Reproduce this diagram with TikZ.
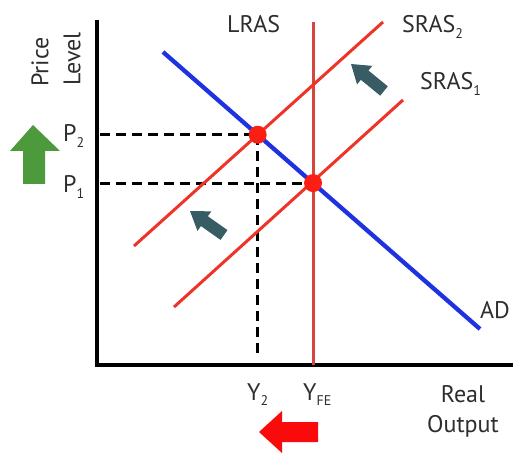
\documentclass[tikz,border=0pt]{standalone}
\usepackage{fontspec}
\setmainfont{PT Sans}
\definecolor{txt}{RGB}{45,45,45}
\definecolor{sras}{RGB}{238,52,40}
\definecolor{lras}{RGB}{215,70,60}
\definecolor{adblue}{RGB}{30,50,225}
\definecolor{dotred}{RGB}{250,30,20}
\definecolor{upgreen}{RGB}{76,154,60}
\definecolor{slate}{RGB}{55,92,100}
\definecolor{leftred}{RGB}{250,10,10}
\newcommand\sbs[1]{\raisebox{-0.45ex}{\fontsize{14}{14}\selectfont #1}}
\begin{document}
\begin{tikzpicture}[x=1pt,y=-1pt,
  lbl/.style={inner sep=0pt,text=txt,font=\fontsize{24}{26}\selectfont},
  axis/.style={line width=4pt,black,line cap=rect},
  srasline/.style={line width=3pt,sras},
  lrasline/.style={line width=3pt,lras},
  adline/.style={line width=4.3pt,adblue},
  guide/.style={line width=3pt,black,dash pattern=on 10pt off 6pt},
  dot/.style={circle,fill=dotred,inner sep=0pt,minimum size=18pt},
  slatearrow/.style={fill=slate}]
\useasboundingbox (0,0) rectangle (513,454);
% axes
\coordinate (ytop) at (97,22);
\coordinate (orig) at (97,365);
\coordinate (xend) at (512,365);
\draw[axis] (ytop) -- (orig) -- (xend);
% curves
\coordinate (ad1) at (163,52);
\coordinate (ad2) at (480,329);
\coordinate (s2a) at (134,246);
\coordinate (s2b) at (383,22);
\coordinate (s1a) at (174,307);
\coordinate (s1b) at (403,100);
\coordinate (l1) at (313,22);
\coordinate (l2) at (313,365);
\coordinate (E2) at (intersection of ad1--ad2 and s2a--s2b);
\coordinate (E1) at (intersection of ad1--ad2 and l1--l2);
\coordinate (py2) at (orig |- E2);
\coordinate (py1) at (orig |- E1);
\coordinate (px2) at (E2 |- 0,353);
% dashed guides
\draw[guide] ([xshift=3pt]py2) -- (E2);
\draw[guide] ([xshift=3pt]py1) -- (E1);
\draw[guide] (E2) -- (px2);
\draw[lrasline] (l1) -- (l2);
\draw[srasline] (s2a) -- (s2b);
\draw[srasline] (s1a) -- (s1b);
\draw[adline] (ad1) -- (ad2);
\node[dot] (d2) at (E2) {};
\node[dot] (d1) at (E1) {};
% labels
\node[lbl,anchor=base west] (tl) at (227,33) {LRAS};
\node[lbl,anchor=base west] (ts2) at (402,33) {SRAS\sbs{2}};
\node[lbl,anchor=base west] (ts1) at (420,90) {SRAS\sbs{1}};
\node[lbl,anchor=base west] (tad) at (480,318) {AD};
\node[lbl,anchor=base west] (tp2) at (63,142) {P\sbs{2}};
\node[lbl,anchor=base west] (tp1) at (63,193) {P\sbs{1}};
\node[lbl,anchor=base west] (ty2) at (247,400) {Y\sbs{2}};
\node[lbl,anchor=base west] (tyfe) at (303,400) {Y\sbs{FE}};
\node[lbl,anchor=base] (treal) at (463,402) {Real};
\node[lbl,anchor=base] (tout) at (463,432) {Output};
\node[lbl,rotate=90] (tprice) at (40,62) {Price};
\node[lbl,rotate=90] (tlevel) at (72,59) {Level};
% green up arrow
\fill[upgreen] (33,125) -- (60,151) -- (45,151) -- (45,184) -- (23,184) -- (23,151) -- (10,151) -- cycle;
% red left arrow
\fill[leftred] (259,432) -- (282,411) -- (282,422) -- (318,422) -- (318,442) -- (282,442) -- (282,453) -- cycle;
% slate arrows
\begin{scope}[shift={(384,91)},rotate=140.7]
\fill[slatearrow] (0,-6) -- (25,-6) -- (25,-12) -- (42.6,0) -- (25,12) -- (25,6) -- (0,6) -- cycle;
\end{scope}
\begin{scope}[shift={(224,235)},rotate=144.8]
\fill[slatearrow] (0,-6) -- (24,-6) -- (24,-12) -- (41.6,0) -- (24,12) -- (24,6) -- (0,6) -- cycle;
\end{scope}
\end{tikzpicture}
\end{document}
